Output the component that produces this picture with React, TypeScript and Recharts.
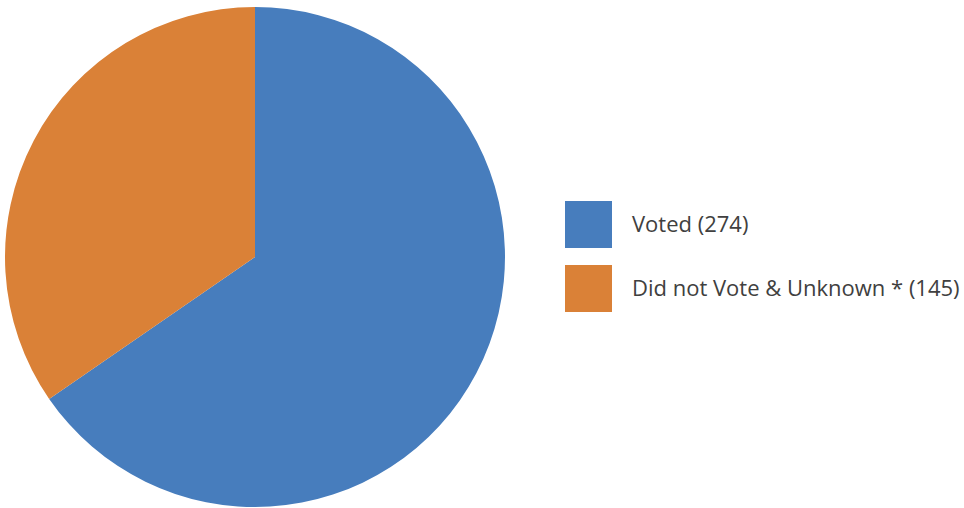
import { PieChart, Pie, Cell, Legend } from "recharts"

const categories = ["Voted", "Did not Vote & Unknown *"]
const counts = [274, 145]
const colors = ["#477dbd", "#da8137"]

const data = categories.map((name, i) => ({ name, value: counts[i] }))

const renderLegend = () => (
  <div style={{ fontFamily: "'Open Sans', sans-serif", fontSize: 22, color: "#404040" }}>
    {data.map((d, i) => (
      <div key={d.name} style={{ display: "flex", alignItems: "center", height: 47, marginBottom: 17 }}>
        <div style={{ width: 47, height: 47, background: colors[i], marginRight: 20, flexShrink: 0 }} />
        <span style={{ whiteSpace: "nowrap", marginTop: -3 }}>{`${d.name} (${d.value})`}</span>
      </div>
    ))}
  </div>
)

export default function App() {
  return (
    <div style={{ position: "absolute", left: 0, top: 0, width: 964, height: 508, background: "#fff" }}>
      <PieChart width={964} height={508} margin={{ top: 0, right: 0, bottom: 0, left: 0 }}>
        <Pie
          data={data}
          dataKey="value"
          nameKey="name"
          cx={255}
          cy={257}
          outerRadius={250}
          startAngle={90}
          endAngle={-270}
          stroke="none"
          isAnimationActive={false}
        >
          {data.map((d, i) => (
            <Cell key={d.name} fill={colors[i]} />
          ))}
        </Pie>
        <Legend
          content={renderLegend}
          layout="vertical"
          wrapperStyle={{ position: "absolute", left: 565, top: 201, width: 399 }}
        />
      </PieChart>
    </div>
  )
}
